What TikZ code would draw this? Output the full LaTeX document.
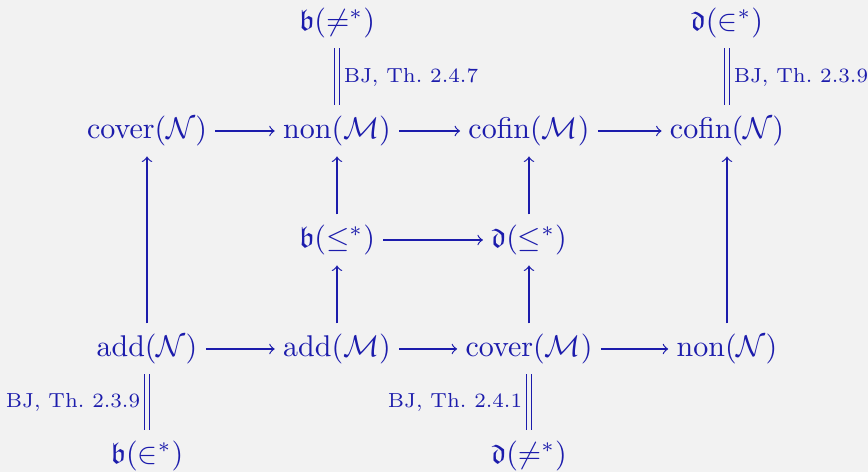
\documentclass[tikz,border=0pt]{standalone}
\usepackage{amssymb}
\definecolor{bg}{RGB}{242,242,242}
\definecolor{ink}{RGB}{28,28,172}
\tikzset{
  obj/.style={inner xsep=2.6pt, inner ysep=3.3pt, text height=7.5pt, text depth=2.5pt, text=ink, font=\fontsize{10}{12}\selectfont},
  arr/.style={->, draw=ink, line width=0.4pt},
  eqline/.style={draw=ink, double=bg, double distance=1.4pt, line width=0.4pt},
  lab/.style={text=ink, font=\fontsize{7.1}{9}\selectfont, inner sep=1.2pt, transform shape, scale=0.955}
}
\begin{document}
\begin{tikzpicture}[x=0.33333pt, y=-0.33333pt]
\fill[bg] (0,0) rectangle (868,472);
\useasboundingbox (0,0) rectangle (868,472);
% row 1
\node[obj] (covN) at (147,131) {cover$(\mathcal{N})$};
\node[obj] (nonM) at (337,131) {non$(\mathcal{M})$};
\node[obj] (cofM) at (529,131) {cofin$(\mathcal{M})$};
\node[obj] (cofN) at (727,131) {cofin$(\mathcal{N})$};
% row 2
\node[obj] (ble) at (337,240) {$\mathfrak{b}(\leq^*)$};
\node[obj] (dle) at (529,240) {$\mathfrak{d}(\leq^*)$};
% row 3
\node[obj] (addN) at (147,349) {add$(\mathcal{N})$};
\node[obj] (addM) at (337,349) {add$(\mathcal{M})$};
\node[obj] (covM) at (529,349) {cover$(\mathcal{M})$};
\node[obj] (nonN) at (727,349) {non$(\mathcal{N})$};
% top / bottom
\node[obj] (bne) at (337,23) {$\mathfrak{b}(\neq^*)$};
\node[obj] (din) at (727,23) {$\mathfrak{d}(\in^*)$};
\node[obj] (bin) at (147,456) {$\mathfrak{b}(\in^*)$};
\node[obj] (dne) at (529,456) {$\mathfrak{d}(\neq^*)$};
% horizontal arrows
\draw[arr] (covN) -- (nonM);
\draw[arr] (nonM) -- (cofM);
\draw[arr] (cofM) -- (cofN);
\draw[arr] (ble) -- (dle);
\draw[arr] (addN) -- (addM);
\draw[arr] (addM) -- (covM);
\draw[arr] (covM) -- (nonN);
% vertical arrows
\draw[arr] (addN) -- (covN);
\draw[arr] (ble) -- (nonM);
\draw[arr] (addM) -- (ble);
\draw[arr] (dle) -- (cofM);
\draw[arr] (covM) -- (dle);
\draw[arr] (nonN) -- (cofN);
% equalities
\draw[eqline] (bne) -- node[lab, right=1pt] {BJ, Th.~2.4.7} (nonM);
\draw[eqline] (din) -- node[lab, right=1pt] {BJ, Th.~2.3.9} (cofN);
\draw[eqline] (addN) -- node[lab, left=1pt] {BJ, Th.~2.3.9} (bin);
\draw[eqline] (covM) -- node[lab, left=1pt] {BJ, Th.~2.4.1} (dne);
\end{tikzpicture}
\end{document}
